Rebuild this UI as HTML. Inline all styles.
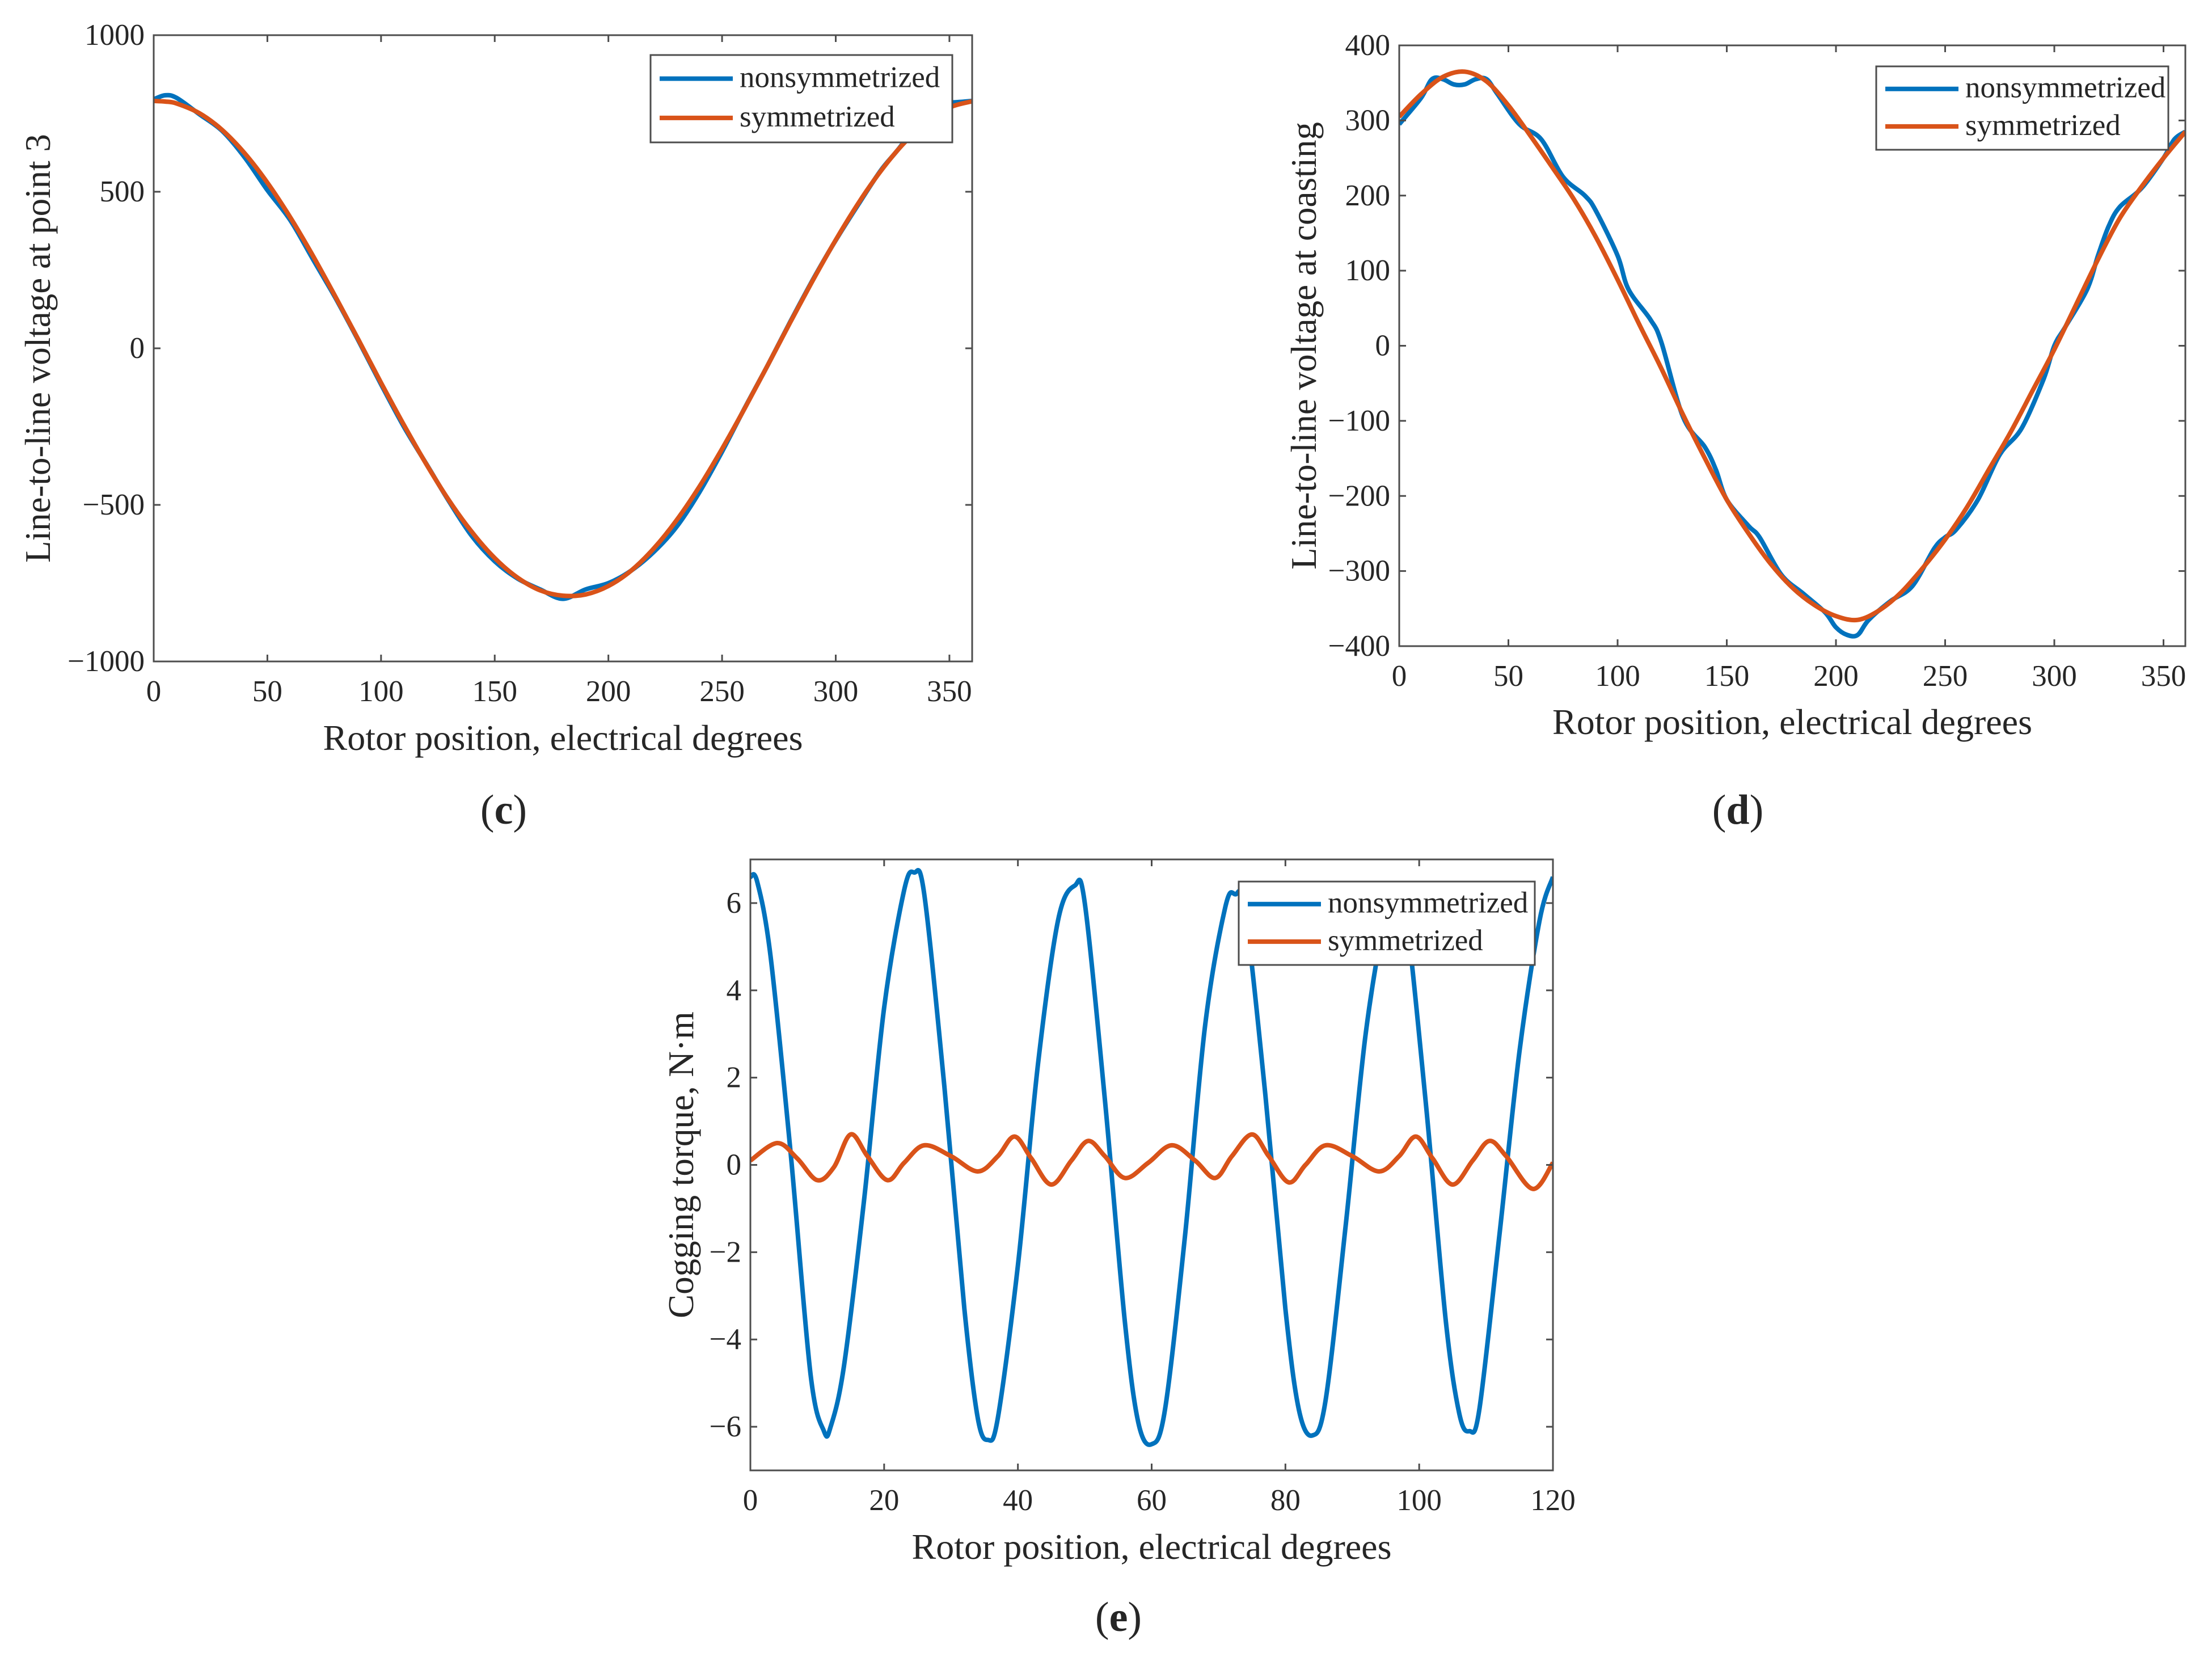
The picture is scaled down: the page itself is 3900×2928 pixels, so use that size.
<!DOCTYPE html>
<html><head><meta charset="utf-8"><style>
html,body{margin:0;padding:0;background:#fff;}
svg{display:block;}
text{font-family:"Liberation Serif",serif;fill:#262626;}
</style></head><body>
<svg id="fig" width="3900" height="2928" viewBox="0 0 3900 2928" xmlns="http://www.w3.org/2000/svg">
<rect width="3900" height="2928" fill="#fff"/>
</svg>
<script>
// ---- Panel (c) data ----
const cX = [0,5,10,20,30,40,50,60,70,80,90,100,110,120,130,140,150,160,170,180,190,200,210,220,230,240,250,260,270,280,290,300,310,320,330,340,350,360];
const cSym = [790,788,782,751,698,623,529,419,296,164,28,-110,-244,-371,-487,-587,-670,-732,-773,-790,-786,-759,-710,-639,-549,-442,-321,-191,-55,83,218,346,464,568,655,722,769,789];
const cNon = [795,808,800,748,695,610,505,410,285,160,25,-115,-250,-370,-490,-600,-680,-735,-770,-800,-770,-750,-710,-650,-570,-460,-330,-190,-55,85,220,345,460,570,660,790,785,790];
const cYTicks = [-1000,-500,0,500,1000];
const cXTicks = [0,50,100,150,200,250,300,350];
// ---- Panel (d) data ----
const dX = [0,10,15,20,25,30,35,40,45,55,65,75,85,90,100,105,115,120,130,140,145,150,160,165,175,185,195,200,205,210,215,225,235,245,250,255,265,275,285,295,300,305,315,320,325,330,340,350,355,360];
const dNon = [295,330,355,355,348,348,355,355,335,295,275,225,200,180,120,75,35,5,-95,-135,-165,-205,-240,-255,-305,-330,-355,-375,-385,-385,-365,-340,-320,-270,-255,-245,-205,-145,-110,-45,0,25,75,120,160,185,210,250,275,285];
const dSX = [0,10,20,30,40,50,60,70,80,90,100,110,120,130,140,150,160,170,180,190,200,210,220,230,240,250,260,270,280,290,300,310,320,330,340,350,360];
const dSym = [305,335,358,365,352,320,280,238,195,145,88,28,-30,-92,-150,-205,-250,-290,-322,-345,-360,-365,-352,-328,-295,-258,-215,-165,-115,-60,-5,55,115,170,212,250,285];
const dYTicks = [-400,-300,-200,-100,0,100,200,300,400];
const dXTicks = [0,50,100,150,200,250,300,350];
// ---- Panel (e) data ----
const eX = [0,1,3,6,9,11,12,14,17,20,23,24.5,26,29,32,34,35.5,37,40,43,46,48.5,50,53,56,58,60,62,65,68,71,72.5,74,77,80,82,84,86,89,92,95,96.5,98,101,104,106,107.5,109,112,115,118,120];
const eNon = [6.6,6.5,4.8,0.3,-4.8,-6.1,-6.0,-4.6,-0.8,3.6,6.3,6.7,6.2,1.8,-3.3,-5.8,-6.3,-5.8,-2.3,2.3,5.6,6.4,6.0,1.5,-3.6,-5.9,-6.4,-5.6,-1.6,3.2,5.9,6.2,5.8,1.6,-3.3,-5.6,-6.2,-5.4,-1.4,3.0,5.8,6.3,5.8,1.4,-3.6,-5.7,-6.1,-5.6,-1.6,2.6,5.6,6.6];
const eSX = [0,4,7,10,12.5,15,17.5,20.5,23,26,30,34,37,39.5,42,45,48,50.5,53,56,59.5,63,66.5,69.5,72,75,77.5,80.5,83,86,90,94,97,99.5,102,105,108,110.5,113,117,120];
const eSym = [0.1,0.5,0.15,-0.35,-0.05,0.7,0.2,-0.35,0.05,0.45,0.2,-0.15,0.2,0.65,0.15,-0.45,0.1,0.55,0.2,-0.3,0.05,0.45,0.1,-0.3,0.2,0.7,0.2,-0.4,0.0,0.45,0.2,-0.15,0.2,0.65,0.15,-0.45,0.1,0.55,0.2,-0.55,0.05];
const eYTicks = [-6,-4,-2,0,2,4,6];
const eXTicks = [0,20,40,60,80,100,120];

const NS='http://www.w3.org/2000/svg';
const svg=document.getElementById('fig');
function mk(tag,attrs,parent){const e=document.createElementNS(NS,tag);for(const k in attrs)e.setAttribute(k,attrs[k]);(parent||svg).appendChild(e);return e;}
function smooth(pts){let d='M'+pts[0][0].toFixed(1)+','+pts[0][1].toFixed(1);
  for(let i=0;i<pts.length-1;i++){const p0=pts[Math.max(0,i-1)],p1=pts[i],p2=pts[i+1],p3=pts[Math.min(pts.length-1,i+2)];
    const c1x=p1[0]+(p2[0]-p0[0])/6,c1y=p1[1]+(p2[1]-p0[1])/6,c2x=p2[0]-(p3[0]-p1[0])/6,c2y=p2[1]-(p3[1]-p1[1])/6;
    d+=' C'+c1x.toFixed(1)+','+c1y.toFixed(1)+' '+c2x.toFixed(1)+','+c2y.toFixed(1)+' '+p2[0].toFixed(1)+','+p2[1].toFixed(1);}
  return d;}

function panel(o){
  const g=mk('g',{});
  
  
  const sx=v=>o.x0+(v-o.xmin)/(o.xmax-o.xmin)*(o.x1-o.x0);
  const sy=v=>o.y1-(v-o.ymin)/(o.ymax-o.ymin)*(o.y1-o.y0);
  const clip=mk('clipPath',{id:o.name+'-clip'},g);
  mk('rect',{x:o.x0,y:o.y0,width:o.x1-o.x0,height:o.y1-o.y0},clip);
  const lines=mk('g',{'clip-path':'url(#'+o.name+'-clip)'},g);
  o.series.forEach(s=>{
    const p=mk('path',{d:smooth(s.x.map((v,i)=>[sx(v),sy(s.y[i])])),fill:'none',stroke:s.color,'stroke-width':8,'stroke-linejoin':'round'},lines);
    
    
  });
  const box=mk('rect',{x:o.x0,y:o.y0,width:o.x1-o.x0,height:o.y1-o.y0,fill:'none',stroke:'#4d4d4d','stroke-width':3},g);
  
  
  const tl=12;
  o.xt.forEach(t=>{const x=sx(t);
    mk('line',{x1:x,y1:o.y1,x2:x,y2:o.y1-tl,stroke:'#4d4d4d','stroke-width':3},g);
    mk('line',{x1:x,y1:o.y0,x2:x,y2:o.y0+tl,stroke:'#4d4d4d','stroke-width':3},g);
    const tx=mk('text',{x:x,y:o.y1+70,'font-size':53,'text-anchor':'middle'},g);tx.textContent=t;
    
    });
  o.yt.forEach(t=>{const y=sy(t);
    mk('line',{x1:o.x0,y1:y,x2:o.x0+tl,y2:y,stroke:'#4d4d4d','stroke-width':3},g);
    mk('line',{x1:o.x1,y1:y,x2:o.x1-tl,y2:y,stroke:'#4d4d4d','stroke-width':3},g);
    const tx=mk('text',{x:o.x0-16,y:y+17,'font-size':53,'text-anchor':'end'},g);tx.textContent=(t<0?'\u2212'+(-t):t);
    
    });
  const xl=mk('text',{x:(o.x0+o.x1)/2,y:o.xly,'font-size':64,'text-anchor':'middle'},g);xl.textContent='Rotor position, electrical degrees';
  
  
  const yl=mk('text',{x:0,y:0,'font-size':63,'text-anchor':'middle',transform:'translate('+o.ylx+','+((o.y0+o.y1)/2)+') rotate(-90)'},g);yl.textContent=o.ylabel;
  
  
  const L=o.leg;
  const lg=mk('g',{},g);
  
  
  mk('rect',{x:L.x0,y:L.y0,width:L.x1-L.x0,height:L.y1-L.y0,fill:'#fff',stroke:'#4d4d4d','stroke-width':3},lg);
  const rows=(L.y1-L.y0);
  [['nonsymmetrized','#0072BD'],['symmetrized','#D95319']].forEach((r,i)=>{
    const y=L.y0+rows*(i===0?0.27:0.72);
    mk('line',{x1:L.x0+16,y1:y,x2:L.x0+145,y2:y,stroke:r[1],'stroke-width':8},lg);
    const t=mk('text',{x:L.x0+157,y:y+15,'font-size':53},lg);t.textContent=r[0];
    
    
  });
  const cap=mk('text',{x:o.capx,y:o.capy,'font-size':74,'text-anchor':'middle'},g);
  cap.innerHTML='(<tspan font-weight="bold">'+o.cap+'</tspan>)';
  
  
}

panel({name:'panel-c',x0:271,x1:1714,y0:62,y1:1166,xmin:0,xmax:360,ymin:-1000,ymax:1000,xt:cXTicks,yt:cYTicks,
  series:[{name:'c-nonsymmetrized-line',x:cX,y:cNon,color:'#0072BD'},{name:'c-symmetrized-line',x:cX,y:cSym,color:'#D95319'}],
  xly:1322,ylx:88,ylabel:'Line-to-line voltage at point 3',leg:{x0:1147,x1:1679,y0:97,y1:251},cap:'c',capx:888,capy:1452});
panel({name:'panel-d',x0:2467,x1:3853,y0:80,y1:1139,xmin:0,xmax:360,ymin:-400,ymax:400,xt:dXTicks,yt:dYTicks,
  series:[{name:'d-nonsymmetrized-line',x:dX,y:dNon,color:'#0072BD'},{name:'d-symmetrized-line',x:dSX,y:dSym,color:'#D95319'}],
  xly:1294,ylx:2320,ylabel:'Line-to-line voltage at coasting',leg:{x0:3308,x1:3823,y0:117,y1:264},cap:'d',capx:3064,capy:1452});
panel({name:'panel-e',x0:1323,x1:2738,y0:1515,y1:2592,xmin:0,xmax:120,ymin:-7,ymax:7,xt:eXTicks,yt:eYTicks,
  series:[{name:'e-nonsymmetrized-line',x:eX,y:eNon,color:'#0072BD'},{name:'e-symmetrized-line',x:eSX,y:eSym,color:'#D95319'}],
  xly:2748,ylx:1222,ylabel:'Cogging torque, N\u00b7m',leg:{x0:2184,x1:2706,y0:1554,y1:1701},cap:'e',capx:1972,capy:2875});
</script>
</body></html>
